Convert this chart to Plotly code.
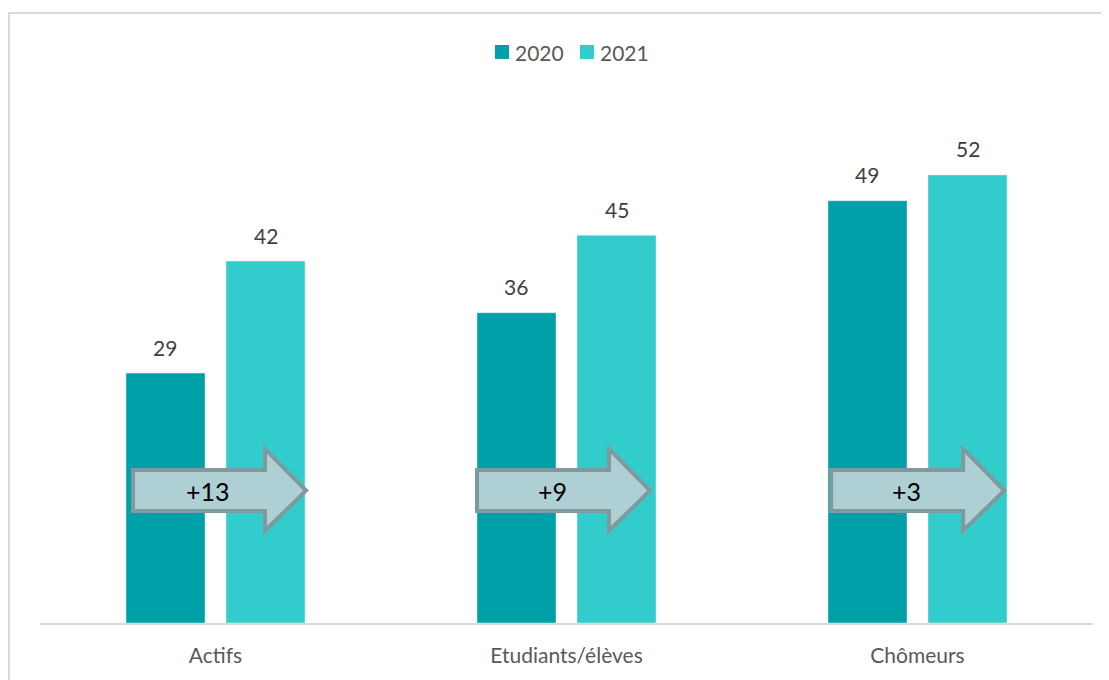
import plotly.graph_objects as go

categories = ["Actifs", "Etudiants/élèves", "Chômeurs"]
values_2020 = [29, 36, 49]
values_2021 = [42, 45, 52]
series_names = ["2020", "2021"]
differences = ["+13", "+9", "+3"]

C2020 = "#00A0A8"
C2021 = "#33CCCC"
FONT = "Lato"
colors = [C2020, C2021]

fig = go.Figure()
for name, vals, col in zip(series_names, [values_2020, values_2021], colors):
    fig.add_trace(go.Bar(x=categories, y=vals, name=name, marker_color=col, showlegend=False))

shapes = []
annotations = []

# value labels (placed above bars through the axis, offset in pixels)
bar_offsets = [-0.1425, 0.1425]
for vals, off in zip([values_2020, values_2021], bar_offsets):
    for i, v in enumerate(vals):
        annotations.append(dict(x=i + off, y=v, xref="x", yref="y", text=str(v), showarrow=False,
                                yanchor="middle", yshift=26,
                                font=dict(size=21, color="#404040", family=FONT)))

# arrows in category units / data units
arrow_left = [-0.235, -0.255, -0.246]
arrow_len, head_len = 0.493, 0.117
body_top, body_bot, head_top, head_bot, mid = 17.75, 13.0, 20.2, 10.7, 15.37
for i, (d, lft) in enumerate(zip(differences, arrow_left)):
    x0 = i + lft
    xt = x0 + arrow_len
    xb = xt - head_len
    path = (f"M {x0},{body_bot} L {x0},{body_top} L {xb},{body_top} "
            f"L {xb},{head_top} L {xt},{mid} L {xb},{head_bot} L {xb},{body_bot} Z")
    shapes.append(dict(type="path", xref="x", yref="y", path=path,
                       fillcolor="#AECFD3", line=dict(color="#7F9A9D", width=4), layer="above"))
    annotations.append(dict(x=(x0 + xb) / 2 + 0.026, y=mid, xref="x", yref="y", text=d,
                            showarrow=False, font=dict(size=25, color="#000000", family=FONT)))

# manual legend
leg_sq = [(0.4321, 0.4454), (0.5128, 0.5261)]
leg_tx = [0.4492, 0.5299]
for (x0, x1), tx, name, col in zip(leg_sq, leg_tx, series_names, colors):
    shapes.append(dict(type="rect", xref="paper", yref="paper", x0=x0, x1=x1, y0=1.091, y1=1.118,
                       fillcolor=col, line=dict(width=0)))
    annotations.append(dict(x=tx, y=1.1044, xref="paper", yref="paper", text=name, showarrow=False,
                            xanchor="left", yanchor="middle",
                            font=dict(size=21, color="#595959", family=FONT)))

# outer border
shapes.append(dict(type="rect", xref="paper", yref="paper", x0=-0.0294, x1=1.2, y0=-0.3, y1=1.18,
                   line=dict(color="#D9D9D9", width=2), fillcolor="rgba(0,0,0,0)", layer="below"))

fig.update_layout(
    width=1109, height=680,
    margin=dict(l=32, r=24, t=98, b=65),
    paper_bgcolor="white", plot_bgcolor="white",
    barmode="group", bargap=0.43, bargroupgap=0.21,
    font=dict(family=FONT, color="#595959", size=18),
    showlegend=False,
    xaxis=dict(showline=True, linecolor="#D9D9D9", linewidth=2, ticks="outside", ticklen=13,
               tickcolor="rgba(0,0,0,0)",
               tickfont=dict(size=21, color="#595959", family=FONT), showgrid=False),
    yaxis=dict(range=[0, 60], visible=False, showgrid=False),
    shapes=shapes, annotations=annotations,
)

fig.write_html("out.html")
